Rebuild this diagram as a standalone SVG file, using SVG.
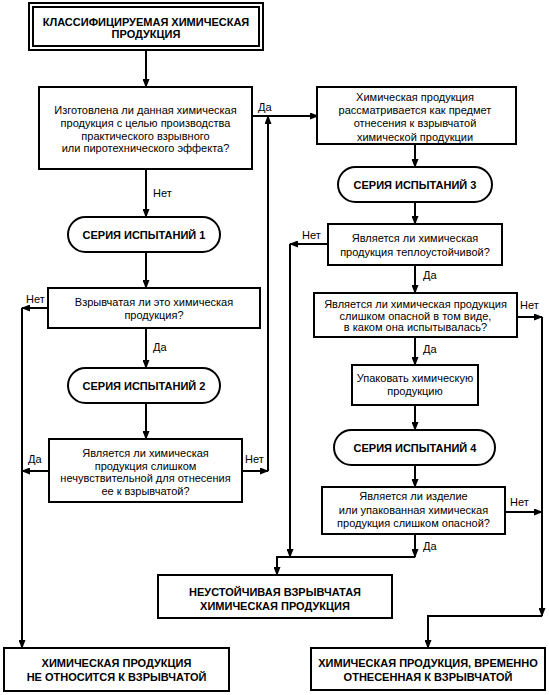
<svg xmlns="http://www.w3.org/2000/svg" width="549" height="695" viewBox="0 0 549 695">
<style>
.b{fill:#fff;stroke:#000;stroke-width:2}
.l{fill:none;stroke:#000;stroke-width:2}
text{font-family:"Liberation Sans",Arial,sans-serif;font-size:11px;fill:#000;text-anchor:middle}
.h{font-weight:bold}
.s{text-anchor:start}
</style>
<defs>
<marker id="a" markerUnits="userSpaceOnUse" markerWidth="9" markerHeight="7" refX="8" refY="3.5" orient="auto">
<path d="M0,0 L9,3.5 L0,7 z" fill="#000"/>
</marker>
</defs>
<rect width="549" height="695" fill="#fff"/>
<g id="connectors">
<path class="l" d="M146,50 V87" marker-end="url(#a)"/>
<path class="l" d="M252,116 H318" marker-end="url(#a)"/>
<path class="l" d="M146,169 V217" marker-end="url(#a)"/>
<path class="l" d="M146,252 V288" marker-end="url(#a)"/>
<path class="l" d="M48,308 H22" marker-end="url(#a)"/>
<path class="l" d="M22,308 V648" marker-end="url(#a)"/>
<path class="l" d="M146,328 V368" marker-end="url(#a)"/>
<path class="l" d="M146,403 V439" marker-end="url(#a)"/>
<path class="l" d="M49,471 H22" marker-end="url(#a)"/>
<path class="l" d="M242,471 H268" marker-end="url(#a)"/>
<path class="l" d="M268,471 V116" marker-end="url(#a)"/>
<path class="l" d="M415,144 V167" marker-end="url(#a)"/>
<path class="l" d="M415,202 V224" marker-end="url(#a)"/>
<path class="l" d="M328,244 H290" marker-end="url(#a)"/>
<path class="l" d="M290,244 V557" marker-end="url(#a)"/>
<path class="l" d="M415,265 V293" marker-end="url(#a)"/>
<path class="l" d="M517,317 H542" marker-end="url(#a)"/>
<path class="l" d="M542,317 V616" marker-end="url(#a)"/>
<path class="l" d="M415,337 V365" marker-end="url(#a)"/>
<path class="l" d="M415,405 V430" marker-end="url(#a)"/>
<path class="l" d="M415,465 V487" marker-end="url(#a)"/>
<path class="l" d="M505,512 H542" marker-end="url(#a)"/>
<path class="l" d="M415,534 V557" marker-end="url(#a)"/>
<path class="l" d="M415,557 H277 V575" marker-end="url(#a)"/>
<path class="l" d="M542,616 H428 V648" marker-end="url(#a)"/>
<text class="s" x="258" y="111">Да</text>
<text class="s" x="153" y="197">Нет</text>
<text class="s" x="26" y="303">Нет</text>
<text class="s" x="153" y="351">Да</text>
<text class="s" x="28" y="463">Да</text>
<text class="s" x="245" y="463">Нет</text>
<text class="s" x="302" y="239">Нет</text>
<text class="s" x="423" y="279">Да</text>
<text class="s" x="520" y="309">Нет</text>
<text class="s" x="423" y="353">Да</text>
<text class="s" x="510" y="506">Нет</text>
<text class="s" x="423" y="550">Да</text>
</g>
<g id="start">
<rect class="b" x="29" y="3" width="234" height="47"/>
<rect class="b" x="33" y="7" width="226" height="39"/>
<text class="h" x="146" y="26">КЛАССИФИЦИРУЕМАЯ ХИМИЧЕСКАЯ</text>
<text class="h" x="146" y="38">ПРОДУКЦИЯ</text>
</g>
<g id="q1">
<rect class="b" x="39" y="87" width="213" height="82"/>
<text x="145.5" y="114">Изготовлена ли данная химическая</text>
<text x="145.5" y="127">продукция с целью производства</text>
<text x="145.5" y="139.5">практического взрывного</text>
<text x="145.5" y="152">или пиротехнического эффекта?</text>
</g>
<g id="series1">
<rect class="b" x="68" y="217" width="152" height="35" rx="17.5"/>
<text class="h" x="144" y="238.5">СЕРИЯ ИСПЫТАНИЙ 1</text>
</g>
<g id="q2">
<rect class="b" x="48" y="288" width="212" height="40"/>
<text x="154" y="306">Взрывчатая ли это химическая</text>
<text x="154" y="319">продукция?</text>
</g>
<g id="series2">
<rect class="b" x="68" y="368" width="152" height="35" rx="17.5"/>
<text class="h" x="144" y="389.5">СЕРИЯ ИСПЫТАНИЙ 2</text>
</g>
<g id="q3">
<rect class="b" x="49" y="439" width="193" height="63"/>
<text x="145.5" y="457">Является ли химическая</text>
<text x="145.5" y="469.5">продукция слишком</text>
<text x="145.5" y="482">нечувствительной для отнесения</text>
<text x="145.5" y="495">ее к взрывчатой?</text>
</g>
<g id="candidate">
<rect class="b" x="317" y="87" width="199" height="57"/>
<text x="415" y="101">Химическая продукция</text>
<text x="415" y="114">рассматривается как предмет</text>
<text x="415" y="127">отнесения к взрывчатой</text>
<text x="415" y="141">химической продукции</text>
</g>
<g id="series3">
<rect class="b" x="338" y="167" width="154" height="35" rx="17.5"/>
<text class="h" x="415" y="188.5">СЕРИЯ ИСПЫТАНИЙ 3</text>
</g>
<g id="q4">
<rect class="b" x="328" y="224" width="174" height="41"/>
<text x="415" y="242">Является ли химическая</text>
<text x="415" y="256">продукция теплоустойчивой?</text>
</g>
<g id="q5">
<rect class="b" x="314" y="293" width="203" height="44"/>
<text x="415.5" y="308">Является ли химическая продукция</text>
<text x="415.5" y="319.5">слишком опасной в том виде,</text>
<text x="415.5" y="331">в каком она испытывалась?</text>
</g>
<g id="pack">
<rect class="b" x="352" y="365" width="126" height="40"/>
<text x="415" y="382">Упаковать химическую</text>
<text x="415" y="395">продукцию</text>
</g>
<g id="series4">
<rect class="b" x="334" y="430" width="161" height="35" rx="17.5"/>
<text class="h" x="415" y="451.5">СЕРИЯ ИСПЫТАНИЙ 4</text>
</g>
<g id="q6">
<rect class="b" x="322" y="487" width="183" height="47"/>
<text x="413.5" y="500">Является ли изделие</text>
<text x="413.5" y="514">или упакованная химическая</text>
<text x="413.5" y="527">продукция слишком опасной?</text>
</g>
<g id="unstable">
<rect class="b" x="158" y="575" width="234" height="43"/>
<text class="h" x="275" y="596">НЕУСТОЙЧИВАЯ ВЗРЫВЧАТАЯ</text>
<text class="h" x="275" y="610">ХИМИЧЕСКАЯ ПРОДУКЦИЯ</text>
</g>
<g id="notexplosive">
<rect class="b" x="4" y="648" width="225" height="43"/>
<text class="h" x="116.5" y="667">ХИМИЧЕСКАЯ ПРОДУКЦИЯ</text>
<text class="h" x="116.5" y="681">НЕ ОТНОСИТСЯ К ВЗРЫВЧАТОЙ</text>
</g>
<g id="provisional">
<rect class="b" x="311" y="648" width="234" height="42"/>
<text class="h" x="428" y="667">ХИМИЧЕСКАЯ ПРОДУКЦИЯ, ВРЕМЕННО</text>
<text class="h" x="428" y="681">ОТНЕСЕННАЯ К ВЗРЫВЧАТОЙ</text>
</g>
</svg>
